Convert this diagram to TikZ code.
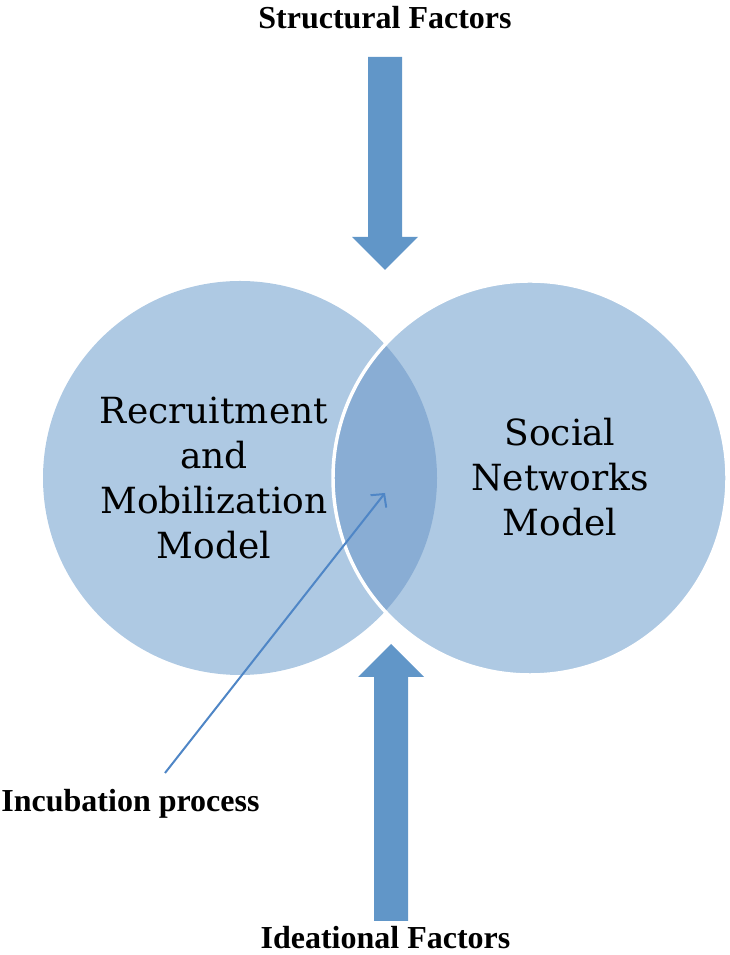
\documentclass[tikz,border=0pt]{standalone}
\usepackage{fontspec}
\setmainfont{Liberation Serif}
\newfontfamily\circfont{DejaVu Serif}
\usetikzlibrary{arrows.meta,positioning}

\definecolor{circblue}{RGB}{174,201,227}
\definecolor{lensblue}{RGB}{137,173,212}
\definecolor{fatblue}{RGB}{97,150,200}
\definecolor{pointblue}{RGB}{79,134,198}

\begin{document}
\begin{tikzpicture}[x=0.75pt,y=0.75pt,
    factor/.style={font=\fontsize{24}{28}\selectfont\bfseries, anchor=base},
    model/.style={align=center, font=\circfont\fontsize{27}{33.75}\selectfont},
    fatarrow/.style={fill=fatblue},
    pointer/.style={draw=pointblue, line width=1.5pt, -{Straight Barb[length=7pt,width=15pt]}}]
  \useasboundingbox (0,0) rectangle (730,955);

  \coordinate (lc) at (240,477);
  \coordinate (rc) at (530,477);

  % the two models and their overlap
  \fill[circblue] (lc) circle (197);
  \fill[circblue] (rc) circle (197);
  \begin{scope}
    \clip (lc) circle (197);
    \fill[lensblue] (rc) circle (197);
  \end{scope}
  \draw[white, line width=2.6pt] (rc) circle (197);

  \node[model] (rmm) at (214,477) {Recruitment\\and\\Mobilization\\Model};
  \node[model] (snm) at (560,478) {Social\\Networks\\Model};

  % factors
  \node[factor] (sf) at (385,926)  {Structural Factors};
  \node[factor] (if) at (385.5,7)  {Ideational Factors};
  \fill[fatarrow] (368,898) -- (402,898) -- (402,718) -- (418,718)
                  -- (385,685) -- (352,718) -- (368,718) -- cycle;
  \fill[fatarrow] (374,34) -- (408,34) -- (408,278) -- (424,278)
                  -- (391,311) -- (358,278) -- (374,278) -- cycle;

  % incubation
  \node[factor] (inc) at (130.5,143) {Incubation process};
  \coordinate (incs) at (165,182);
  \coordinate (lens) at (385,462);
  \draw[pointer] (incs) -- (lens);
\end{tikzpicture}
\end{document}
